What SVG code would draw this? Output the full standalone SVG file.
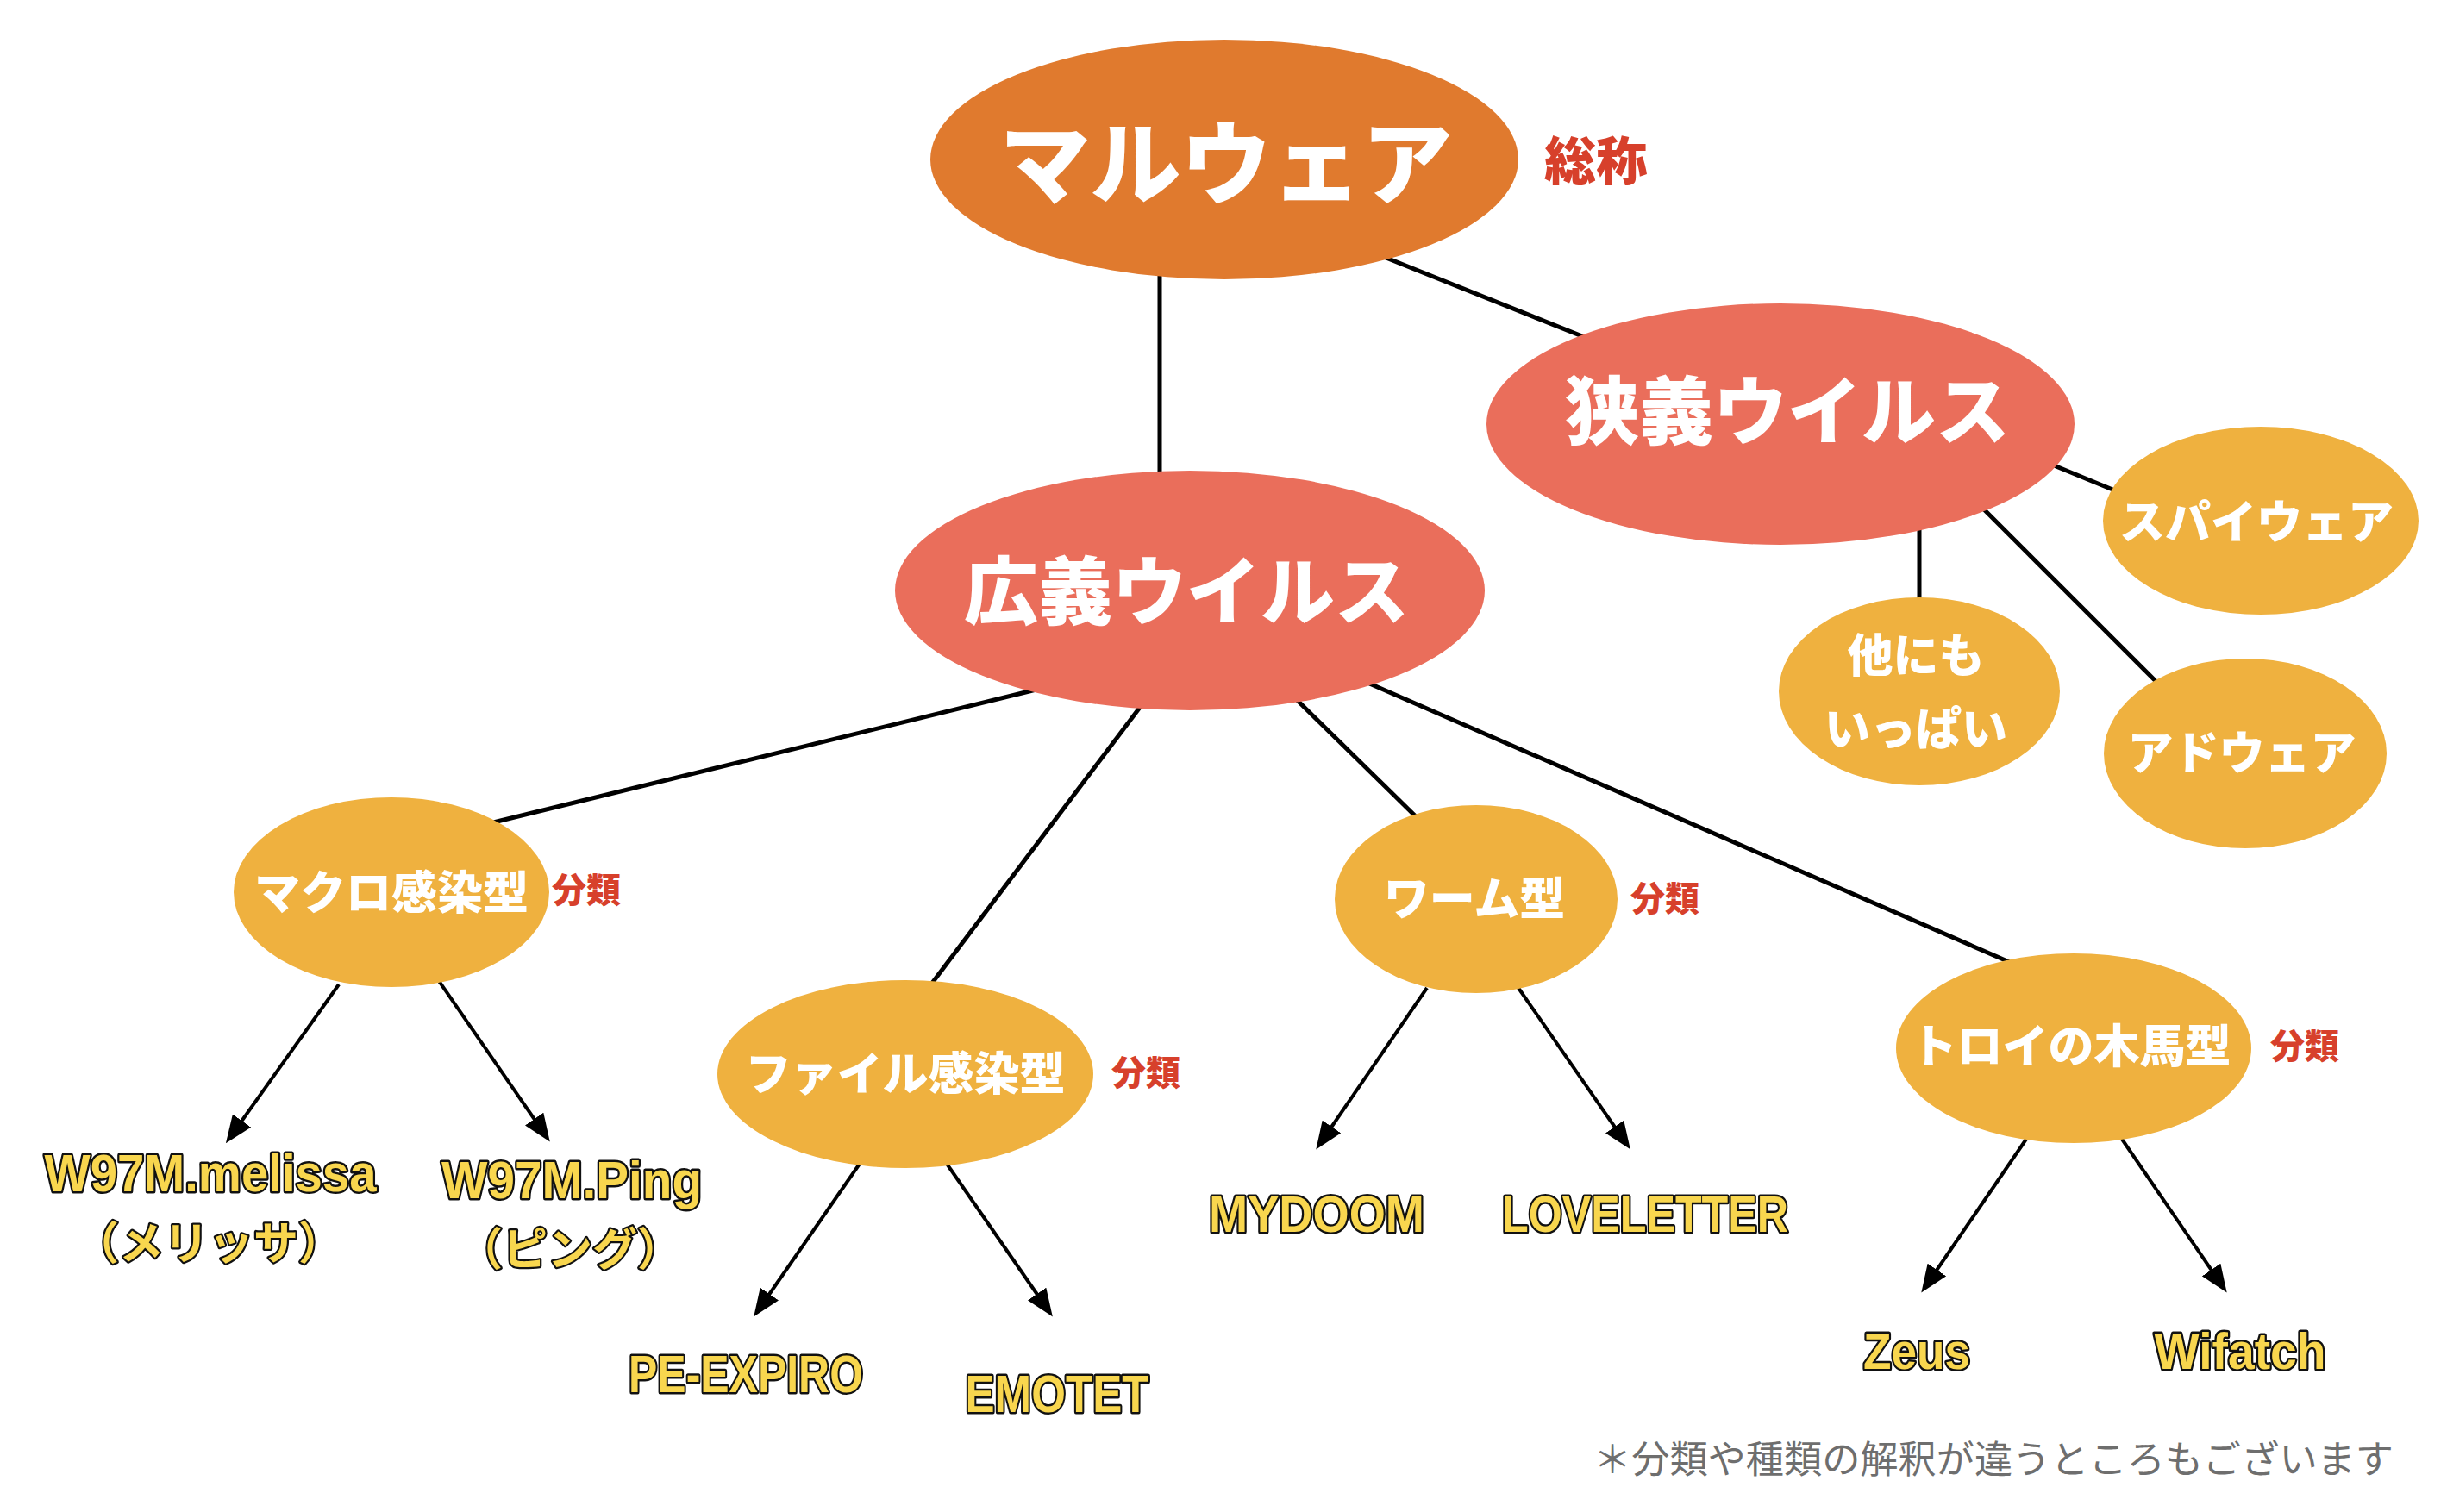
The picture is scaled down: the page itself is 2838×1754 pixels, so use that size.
<svg xmlns="http://www.w3.org/2000/svg" width="2838" height="1754" viewBox="0 0 2838 1754">
<style>
.jp{font-family:"Noto Sans CJK JP","Noto Sans CJK SC",sans-serif;}
.node-t{font-family:"Noto Sans CJK JP",sans-serif;font-weight:900;fill:#FFFFFF;text-anchor:middle;}
.tag{font-family:"Noto Sans CJK JP",sans-serif;font-weight:900;fill:#D7402B;}
.lat{font-family:"Liberation Sans",Arial,sans-serif;font-weight:700;fill:#F8D64E;stroke:#111;stroke-width:5;stroke-linejoin:round;paint-order:stroke;text-anchor:middle;}
.kana{font-family:"Noto Sans CJK JP",sans-serif;font-weight:700;fill:#F8D64E;stroke:#111;stroke-width:4.5;stroke-linejoin:round;paint-order:stroke;text-anchor:middle;}
.ln{stroke:#000;stroke-width:5;fill:none;}
.ar{stroke:#000;stroke-width:4;fill:none;marker-end:url(#ah);}
.c1{fill:#E07A2E;}
.c2{fill:#EA6E5B;}
.c3{fill:#EFB13F;}
</style>
<defs>
<marker id="ah" markerUnits="userSpaceOnUse" markerWidth="32" markerHeight="26" viewBox="0 0 32 26" refX="6" refY="13" orient="auto">
<path d="M0,0 L32,13 L0,26 z" fill="#000"/>
</marker>
</defs>
<rect width="2838" height="1754" fill="#FFFFFF"/>
<g id="connectors">
<line class="ln" x1="1345" y1="300" x2="1345" y2="570"/>
<line class="ln" x1="1580" y1="288" x2="1860" y2="400"/>
<line class="ln" x1="2370" y1="535" x2="2460" y2="572"/>
<line class="ln" x1="2226" y1="610" x2="2226" y2="700"/>
<line class="ln" x1="2290" y1="580" x2="2505" y2="795"/>
<line class="ln" x1="1210" y1="798" x2="560" y2="957"/>
<line class="ln" x1="1330" y1="810" x2="1070" y2="1155"/>
<line class="ln" x1="1495" y1="803" x2="1650" y2="955"/>
<line class="ln" x1="1570" y1="785" x2="2335" y2="1118"/>
<line class="ar" x1="393" y1="1142" x2="277" y2="1305"/>
<line class="ar" x1="509" y1="1138" x2="623" y2="1303"/>
<line class="ar" x1="997" y1="1350" x2="889" y2="1506"/>
<line class="ar" x1="1098" y1="1350" x2="1206" y2="1506"/>
<line class="ar" x1="1655" y1="1146" x2="1541" y2="1312"/>
<line class="ar" x1="1761" y1="1146" x2="1876" y2="1312"/>
<line class="ar" x1="2351" y1="1320" x2="2243" y2="1478"/>
<line class="ar" x1="2460" y1="1320" x2="2568" y2="1478"/>
</g>
<g id="malware">
<ellipse class="c1" cx="1420" cy="185" rx="341" ry="139"/>
<text class="node-t" x="1422" y="228" font-size="105">マルウェア</text>
<text class="tag" x="1791" y="209" font-size="60">総称</text>
</g>
<g id="narrow-virus">
<ellipse class="c2" cx="2065" cy="492" rx="341" ry="140"/>
<text class="node-t" x="2073" y="509" font-size="86">狭義ウイルス</text>
</g>
<g id="broad-virus">
<ellipse class="c2" cx="1380" cy="685" rx="342" ry="139"/>
<text class="node-t" x="1376" y="718" font-size="86">広義ウイルス</text>
</g>
<g id="spyware">
<ellipse class="c3" cx="2622" cy="604" rx="183" ry="109"/>
<text class="node-t" x="2617" y="625" font-size="53">スパイウェア</text>
</g>
<g id="others">
<ellipse class="c3" cx="2226" cy="802" rx="163" ry="109"/>
<text class="node-t" x="2222" y="780" font-size="53">他にも</text>
<text class="node-t" x="2222" y="865" font-size="53">いっぱい</text>
</g>
<g id="adware">
<ellipse class="c3" cx="2604" cy="874" rx="164" ry="110"/>
<text class="node-t" x="2600" y="893" font-size="53">アドウェア</text>
</g>
<g id="macro">
<ellipse class="c3" cx="454" cy="1035" rx="183" ry="110"/>
<text class="node-t" x="454" y="1055" font-size="53">マクロ感染型</text>
<text class="tag" x="640" y="1047" font-size="40">分類</text>
</g>
<g id="file">
<ellipse class="c3" cx="1050" cy="1246" rx="218" ry="109"/>
<text class="node-t" x="1050" y="1265" font-size="53">ファイル感染型</text>
<text class="tag" x="1289" y="1259" font-size="40">分類</text>
</g>
<g id="worm">
<ellipse class="c3" cx="1712" cy="1043" rx="164" ry="109"/>
<text class="node-t" x="1710" y="1062" font-size="53">ワーム型</text>
<text class="tag" x="1891" y="1057" font-size="40">分類</text>
</g>
<g id="trojan">
<ellipse class="c3" cx="2405" cy="1216" rx="206" ry="110"/>
<text class="node-t" x="2402" y="1233" font-size="53">トロイの木馬型</text>
<text class="tag" x="2633" y="1228" font-size="40">分類</text>
</g>
<g id="melissa">
<text class="lat" x="244" y="1382" font-size="62" textLength="385" lengthAdjust="spacingAndGlyphs">W97M.melissa</text>
<text class="kana" x="242" y="1461" font-size="52">（メリッサ）</text>
</g>
<g id="ping">
<text class="lat" x="663" y="1390" font-size="62" textLength="302" lengthAdjust="spacingAndGlyphs">W97M.Ping</text>
<text class="kana" x="661" y="1468" font-size="52">（ピング）</text>
</g>
<g id="pe-expiro">
<text class="lat" x="865" y="1615" font-size="62" textLength="272" lengthAdjust="spacingAndGlyphs">PE-EXPIRO</text>
</g>
<g id="emotet">
<text class="lat" x="1226" y="1638" font-size="62" textLength="213" lengthAdjust="spacingAndGlyphs">EMOTET</text>
</g>
<g id="mydoom">
<text class="lat" x="1527" y="1429" font-size="60" textLength="250" lengthAdjust="spacingAndGlyphs">MYDOOM</text>
</g>
<g id="loveletter">
<text class="lat" x="1908" y="1429" font-size="60" textLength="332" lengthAdjust="spacingAndGlyphs">LOVELETTER</text>
</g>
<g id="zeus">
<text class="lat" x="2223" y="1588" font-size="60" textLength="124" lengthAdjust="spacingAndGlyphs">Zeus</text>
</g>
<g id="wifatch">
<text class="lat" x="2598" y="1588" font-size="60" textLength="199" lengthAdjust="spacingAndGlyphs">Wifatch</text>
</g>
<g id="footnote">
<text class="jp" x="2312" y="1709" font-size="44" fill="#6E6E6E" text-anchor="middle" textLength="928" lengthAdjust="spacingAndGlyphs">＊分類や種類の解釈が違うところもございます</text>
</g>
</svg>
